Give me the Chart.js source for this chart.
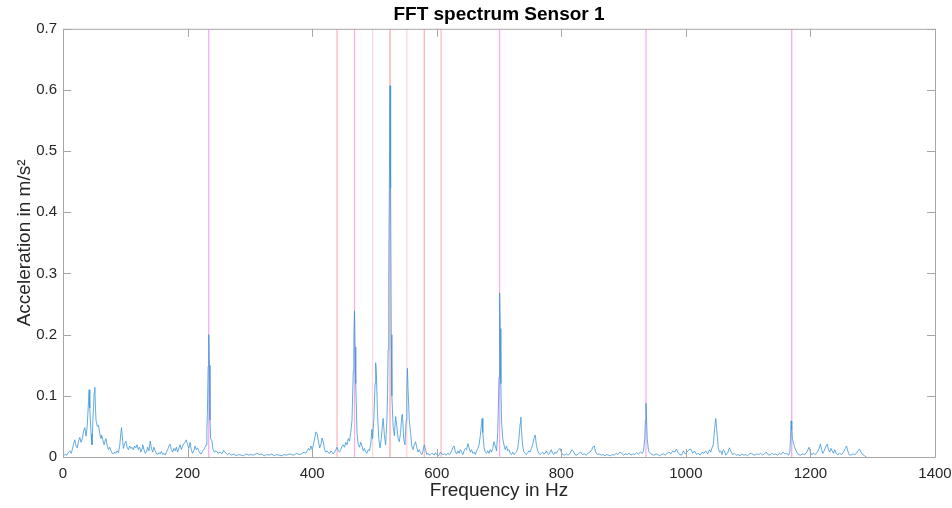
<!DOCTYPE html>
<html>
<head>
<meta charset="utf-8">
<title>FFT spectrum Sensor 1</title>
<script src="https://cdn.jsdelivr.net/npm/chart.js@4.4.1/dist/chart.umd.min.js"></script>
<style>
    html, body { margin: 0; padding: 0; background: #fff; }
    #wrap { width: 952px; height: 508px; }
</style>
</head>
<body>
<div id="wrap"><canvas id="fft"></canvas></div>
<script>
(function () {
    "use strict";

    // Spectrum: [frequency in Hz, acceleration in m/s^2]
    const spectrum = [
        [0, 0.002], [3, 0.004], [6, 0.003], [9, 0.008], [11, 0.010], [13, 0.006], [15, 0.012], [17, 0.022], [19, 0.028], [21, 0.018],
        [23, 0.015], [25, 0.026], [27, 0.032], [29, 0.024], [31, 0.030], [33, 0.042], [35, 0.048], [37, 0.034], [39, 0.052], [41, 0.092],
        [42, 0.110], [43, 0.080], [45, 0.038], [46.5, 0.020], [48, 0.060], [50, 0.105], [51, 0.114], [52, 0.085], [53, 0.060], [55, 0.050],
        [57, 0.052], [59, 0.038], [61, 0.030], [62, 0.036], [64, 0.028], [66, 0.020], [68, 0.028], [69, 0.030], [71, 0.018], [73, 0.012],
        [75, 0.016], [77, 0.010], [79, 0.006], [81, 0.005], [83, 0.008], [85, 0.006], [87, 0.010], [89, 0.007], [91, 0.018], [93, 0.040],
        [94, 0.048], [95, 0.036], [97, 0.014], [99, 0.022], [101, 0.026], [103, 0.016], [105, 0.012], [107, 0.018], [109, 0.014], [111, 0.016],
        [113, 0.012], [115, 0.018], [117, 0.015], [119, 0.020], [121, 0.012], [123, 0.016], [125, 0.008], [127, 0.014], [128, 0.020], [130, 0.012],
        [132, 0.006], [134, 0.008], [136, 0.016], [138, 0.010], [140, 0.026], [142, 0.014], [144, 0.008], [146, 0.016], [148, 0.010], [150, 0.005],
        [152, 0.004], [154, 0.007], [156, 0.005], [158, 0.009], [160, 0.004], [162, 0.006], [164, 0.003], [166, 0.008], [168, 0.012], [170, 0.018],
        [172, 0.021], [174, 0.012], [176, 0.008], [178, 0.014], [180, 0.010], [182, 0.016], [184, 0.008], [186, 0.014], [188, 0.020], [190, 0.012],
        [192, 0.018], [194, 0.022], [196, 0.024], [198, 0.028], [200, 0.020], [202, 0.014], [204, 0.024], [206, 0.012], [208, 0.006], [210, 0.010],
        [212, 0.018], [214, 0.012], [216, 0.015], [218, 0.010], [220, 0.006], [222, 0.005], [224, 0.009], [226, 0.012], [228, 0.016], [230, 0.020],
        [231, 0.040], [232, 0.080], [233, 0.148], [234, 0.200], [235, 0.150], [236, 0.060], [237, 0.030], [239, 0.027], [241, 0.012], [243, 0.008],
        [246, 0.010], [249, 0.006], [252, 0.008], [255, 0.005], [258, 0.011], [261, 0.007], [264, 0.004], [267, 0.006], [270, 0.003], [274, 0.005],
        [278, 0.002], [282, 0.004], [286, 0.003], [290, 0.002], [294, 0.005], [298, 0.003], [302, 0.004], [306, 0.003], [311, 0.006], [315, 0.004],
        [319, 0.005], [323, 0.002], [327, 0.004], [331, 0.003], [335, 0.005], [339, 0.002], [343, 0.004], [347, 0.003], [351, 0.002], [355, 0.004],
        [359, 0.003], [363, 0.005], [367, 0.004], [371, 0.003], [375, 0.006], [379, 0.004], [383, 0.005], [387, 0.008], [390, 0.006], [392, 0.010],
        [394, 0.014], [396, 0.011], [398, 0.018], [400, 0.012], [402, 0.020], [404, 0.030], [406, 0.041], [408, 0.038], [410, 0.026], [412, 0.015],
        [414, 0.020], [416, 0.031], [418, 0.024], [420, 0.012], [422, 0.008], [424, 0.010], [426, 0.007], [428, 0.006], [430, 0.010], [432, 0.008],
        [434, 0.005], [436, 0.008], [438, 0.012], [440, 0.016], [442, 0.010], [444, 0.008], [446, 0.012], [448, 0.018], [450, 0.020], [452, 0.016],
        [454, 0.024], [456, 0.020], [458, 0.030], [460, 0.026], [462, 0.040], [464, 0.060], [466, 0.140], [467, 0.190], [468, 0.239], [469, 0.180],
        [470, 0.120], [472, 0.040], [474, 0.020], [476, 0.016], [478, 0.024], [480, 0.018], [482, 0.010], [484, 0.014], [486, 0.008], [488, 0.006],
        [490, 0.012], [492, 0.010], [494, 0.020], [496, 0.045], [497, 0.030], [499, 0.060], [501, 0.120], [502, 0.154], [503, 0.140], [505, 0.070],
        [507, 0.030], [509, 0.015], [511, 0.030], [513, 0.055], [514, 0.063], [516, 0.035], [518, 0.020], [520, 0.060], [521, 0.100], [522, 0.175],
        [523, 0.300], [524, 0.450], [525, 0.607], [526, 0.440], [527, 0.200], [528, 0.100], [530, 0.050], [532, 0.035], [534, 0.066], [536, 0.050],
        [538, 0.030], [540, 0.025], [542, 0.040], [544, 0.068], [545, 0.070], [547, 0.030], [549, 0.020], [551, 0.060], [552, 0.110], [553, 0.145],
        [554, 0.110], [556, 0.060], [558, 0.040], [560, 0.018], [562, 0.012], [564, 0.020], [566, 0.025], [568, 0.016], [570, 0.008], [572, 0.012],
        [574, 0.007], [576, 0.004], [578, 0.010], [580, 0.020], [582, 0.012], [584, 0.004], [586, 0.006], [588, 0.003], [590, 0.004], [592, 0.006],
        [594, 0.005], [596, 0.003], [598, 0.007], [600, 0.004], [603, 0.002], [606, 0.008], [609, 0.004], [612, 0.005], [615, 0.003], [618, 0.006],
        [621, 0.004], [624, 0.010], [626, 0.016], [628, 0.018], [630, 0.008], [632, 0.005], [634, 0.010], [636, 0.006], [638, 0.012], [640, 0.008],
        [642, 0.004], [644, 0.010], [646, 0.014], [648, 0.012], [650, 0.022], [652, 0.015], [654, 0.008], [656, 0.012], [658, 0.006], [660, 0.008],
        [662, 0.004], [664, 0.010], [666, 0.014], [668, 0.020], [670, 0.035], [672, 0.055], [673, 0.063], [674, 0.040], [676, 0.015], [678, 0.008],
        [680, 0.006], [682, 0.010], [684, 0.006], [686, 0.012], [688, 0.008], [690, 0.014], [692, 0.025], [694, 0.018], [696, 0.010], [698, 0.040],
        [700, 0.130], [701, 0.268], [702, 0.210], [703, 0.120], [704, 0.060], [706, 0.030], [708, 0.020], [710, 0.012], [712, 0.018], [714, 0.010],
        [716, 0.012], [718, 0.006], [720, 0.004], [722, 0.008], [724, 0.004], [726, 0.006], [728, 0.008], [730, 0.014], [732, 0.030], [734, 0.055],
        [735, 0.065], [736, 0.045], [738, 0.018], [740, 0.008], [742, 0.006], [744, 0.004], [746, 0.007], [748, 0.010], [750, 0.008], [752, 0.014],
        [754, 0.020], [756, 0.030], [758, 0.036], [760, 0.020], [762, 0.010], [764, 0.006], [766, 0.004], [768, 0.006], [770, 0.008], [772, 0.005],
        [774, 0.006], [776, 0.010], [778, 0.006], [780, 0.004], [782, 0.008], [784, 0.012], [786, 0.006], [788, 0.004], [790, 0.008], [792, 0.006],
        [794, 0.010], [796, 0.012], [798, 0.014], [800, 0.008], [802, 0.004], [805, 0.003], [808, 0.005], [811, 0.003], [814, 0.006], [817, 0.012],
        [819, 0.010], [822, 0.004], [825, 0.003], [828, 0.006], [831, 0.008], [834, 0.004], [837, 0.005], [840, 0.003], [843, 0.006], [846, 0.008],
        [849, 0.012], [851, 0.017], [853, 0.018], [855, 0.008], [858, 0.004], [861, 0.005], [864, 0.003], [867, 0.004], [870, 0.002], [873, 0.004],
        [876, 0.003], [879, 0.002], [882, 0.004], [885, 0.003], [888, 0.006], [891, 0.004], [894, 0.008], [897, 0.006], [900, 0.003], [903, 0.005],
        [906, 0.004], [909, 0.006], [912, 0.003], [915, 0.005], [918, 0.004], [921, 0.007], [924, 0.005], [927, 0.008], [930, 0.006], [932, 0.010],
        [934, 0.030], [935, 0.060], [936, 0.088], [937, 0.060], [938, 0.030], [940, 0.010], [943, 0.006], [946, 0.004], [949, 0.003], [952, 0.005],
        [955, 0.004], [958, 0.002], [961, 0.004], [964, 0.005], [967, 0.003], [970, 0.006], [973, 0.008], [976, 0.005], [979, 0.010], [982, 0.008],
        [985, 0.013], [987, 0.008], [990, 0.004], [993, 0.003], [996, 0.010], [999, 0.005], [1002, 0.008], [1005, 0.012], [1008, 0.013], [1011, 0.006],
        [1014, 0.010], [1017, 0.004], [1020, 0.006], [1023, 0.003], [1026, 0.008], [1029, 0.006], [1032, 0.010], [1035, 0.005], [1038, 0.012], [1040, 0.008],
        [1042, 0.015], [1044, 0.020], [1046, 0.045], [1048, 0.063], [1050, 0.040], [1052, 0.015], [1054, 0.008], [1056, 0.010], [1058, 0.004], [1060, 0.012],
        [1062, 0.010], [1064, 0.003], [1067, 0.006], [1070, 0.015], [1072, 0.010], [1075, 0.004], [1078, 0.006], [1081, 0.003], [1084, 0.004], [1087, 0.002],
        [1090, 0.005], [1093, 0.003], [1096, 0.004], [1099, 0.002], [1102, 0.005], [1105, 0.006], [1108, 0.004], [1111, 0.003], [1114, 0.005], [1117, 0.004],
        [1120, 0.006], [1123, 0.003], [1126, 0.005], [1129, 0.008], [1132, 0.004], [1135, 0.003], [1138, 0.006], [1141, 0.004], [1144, 0.005], [1147, 0.003],
        [1150, 0.006], [1153, 0.004], [1156, 0.008], [1159, 0.005], [1162, 0.006], [1165, 0.003], [1167, 0.008], [1168, 0.030], [1169, 0.059], [1170, 0.045],
        [1171, 0.030], [1173, 0.022], [1175, 0.015], [1178, 0.008], [1181, 0.004], [1184, 0.003], [1187, 0.005], [1190, 0.004], [1193, 0.006], [1196, 0.012],
        [1198, 0.016], [1200, 0.008], [1202, 0.004], [1205, 0.006], [1208, 0.004], [1211, 0.008], [1214, 0.014], [1216, 0.021], [1218, 0.012], [1220, 0.006],
        [1222, 0.010], [1225, 0.018], [1227, 0.021], [1229, 0.012], [1231, 0.008], [1233, 0.014], [1235, 0.010], [1237, 0.006], [1239, 0.012], [1241, 0.006],
        [1244, 0.004], [1247, 0.006], [1250, 0.004], [1253, 0.008], [1256, 0.014], [1258, 0.018], [1260, 0.010], [1262, 0.004], [1265, 0.003], [1268, 0.005],
        [1271, 0.004], [1274, 0.006], [1276, 0.010], [1279, 0.013], [1281, 0.008], [1284, 0.004], [1287, 0.002], [1290, 0.000],
    ];

    // Marker lines (Hz) and their colours
    const markerFreqs = [234, 440, 468, 497, 525, 552, 580, 607, 701, 936, 1170];
    const markerColors = [
        "#f7a3f7", "#ffb0b8", "#ffa8ee", "#ffd4d6", "#ff9ea8", "#ffd4d6",
        "#ffaab4", "#ffb6c0", "#ffa6f2", "#ffa6f2", "#eaa6ea",
    ];

    const xTicks = [0, 200, 400, 600, 800, 1000, 1200, 1400];
    const yTicks = [0, 0.1, 0.2, 0.3, 0.4, 0.5, 0.6, 0.7];

    const axisColor = "#a6a6a6";
    const textColor = "#262626";
    const fontFamily = "'Liberation Sans', Arial, Helvetica, sans-serif";

    const markerSets = markerFreqs.map((f, i) => ({
        label: "marker " + f,
        data: [{ x: f, y: 0 }, { x: f, y: 0.7 }],
        borderColor: markerColors[i],
        borderWidth: 1.2,
        pointRadius: 0,
        order: 2,
    }));

    // MATLAB style box with inward ticks on all four sides
    const boxTicks = {
        id: "boxTicks",
        afterDatasetsDraw(chart) {
            const { ctx, chartArea: a, scales } = chart;
            const len = 8;
            ctx.save();
            ctx.strokeStyle = axisColor;
            ctx.lineWidth = 1;
            ctx.beginPath();
            ctx.rect(a.left + 0.5, a.top + 0.5, a.right - a.left, a.bottom - a.top);
            xTicks.forEach((t) => {
                const px = Math.round(scales.x.getPixelForValue(t)) + 0.5;
                ctx.moveTo(px, a.bottom);
                ctx.lineTo(px, a.bottom - len);
                ctx.moveTo(px, a.top);
                ctx.lineTo(px, a.top + len);
            });
            yTicks.forEach((t) => {
                const py = Math.round(scales.y.getPixelForValue(t)) + 0.5;
                ctx.moveTo(a.left, py);
                ctx.lineTo(a.left + len, py);
                ctx.moveTo(a.right, py);
                ctx.lineTo(a.right - len, py);
            });
            ctx.stroke();
            ctx.restore();
        },
    };

    const ctx = document.getElementById("fft").getContext("2d");
    new Chart(ctx, {
        type: "line",
        data: {
            datasets: [
                {
                    label: "Sensor 1",
                    data: spectrum.map((p) => ({ x: p[0], y: p[1] })),
                    borderColor: "#3b95d8",
                    borderWidth: 0.8,
                    pointRadius: 0,
                    tension: 0,
                    order: 1,
                },
                ...markerSets,
            ],
        },
        options: {
            responsive: true,
            maintainAspectRatio: false,
            animation: false,
            layout: { padding: { left: 0, right: 17, top: 0, bottom: 0 } },
            plugins: {
                legend: { display: false },
                tooltip: { enabled: false },
                title: {
                    display: true,
                    fullSize: false,
                    text: "FFT spectrum Sensor 1",
                    color: "#000",
                    font: { family: fontFamily, size: 19, weight: "bold" },
                    padding: { top: 3, bottom: 3 },
                },
            },
            scales: {
                x: {
                    type: "linear",
                    min: 0,
                    max: 1400,
                    afterFit: (s) => {
                        s.height = 51;
                        s.paddingLeft = 0;
                        s.paddingRight = 0;
                    },
                    afterBuildTicks: (s) => { s.ticks = xTicks.map((v) => ({ value: v })); },
                    ticks: {
                        color: textColor,
                        padding: 8,
                        maxRotation: 0,
                        font: { family: fontFamily, size: 15 },
                        callback: (v) => String(v),
                    },
                    grid: { display: false, drawTicks: false },
                    border: { display: false },
                    title: {
                        display: true,
                        text: "Frequency in Hz",
                        color: textColor,
                        font: { family: fontFamily, size: 19 },
                        padding: { top: 0, bottom: 6 },
                    },
                },
                y: {
                    type: "linear",
                    min: 0,
                    max: 0.7,
                    afterFit: (s) => { s.width = 63; },
                    afterBuildTicks: (s) => { s.ticks = yTicks.map((v) => ({ value: v })); },
                    ticks: {
                        color: textColor,
                        padding: 6,
                        font: { family: fontFamily, size: 15 },
                        callback: (v) => String(+v.toFixed(1)),
                    },
                    grid: { display: false, drawTicks: false },
                    border: { display: false },
                    title: {
                        display: true,
                        text: "Acceleration in m/s²",
                        color: textColor,
                        font: { family: fontFamily, size: 19 },
                        padding: { top: 13, bottom: 0 },
                    },
                },
            },
        },
        plugins: [boxTicks],
    });
})();
</script>
</body>
</html>
